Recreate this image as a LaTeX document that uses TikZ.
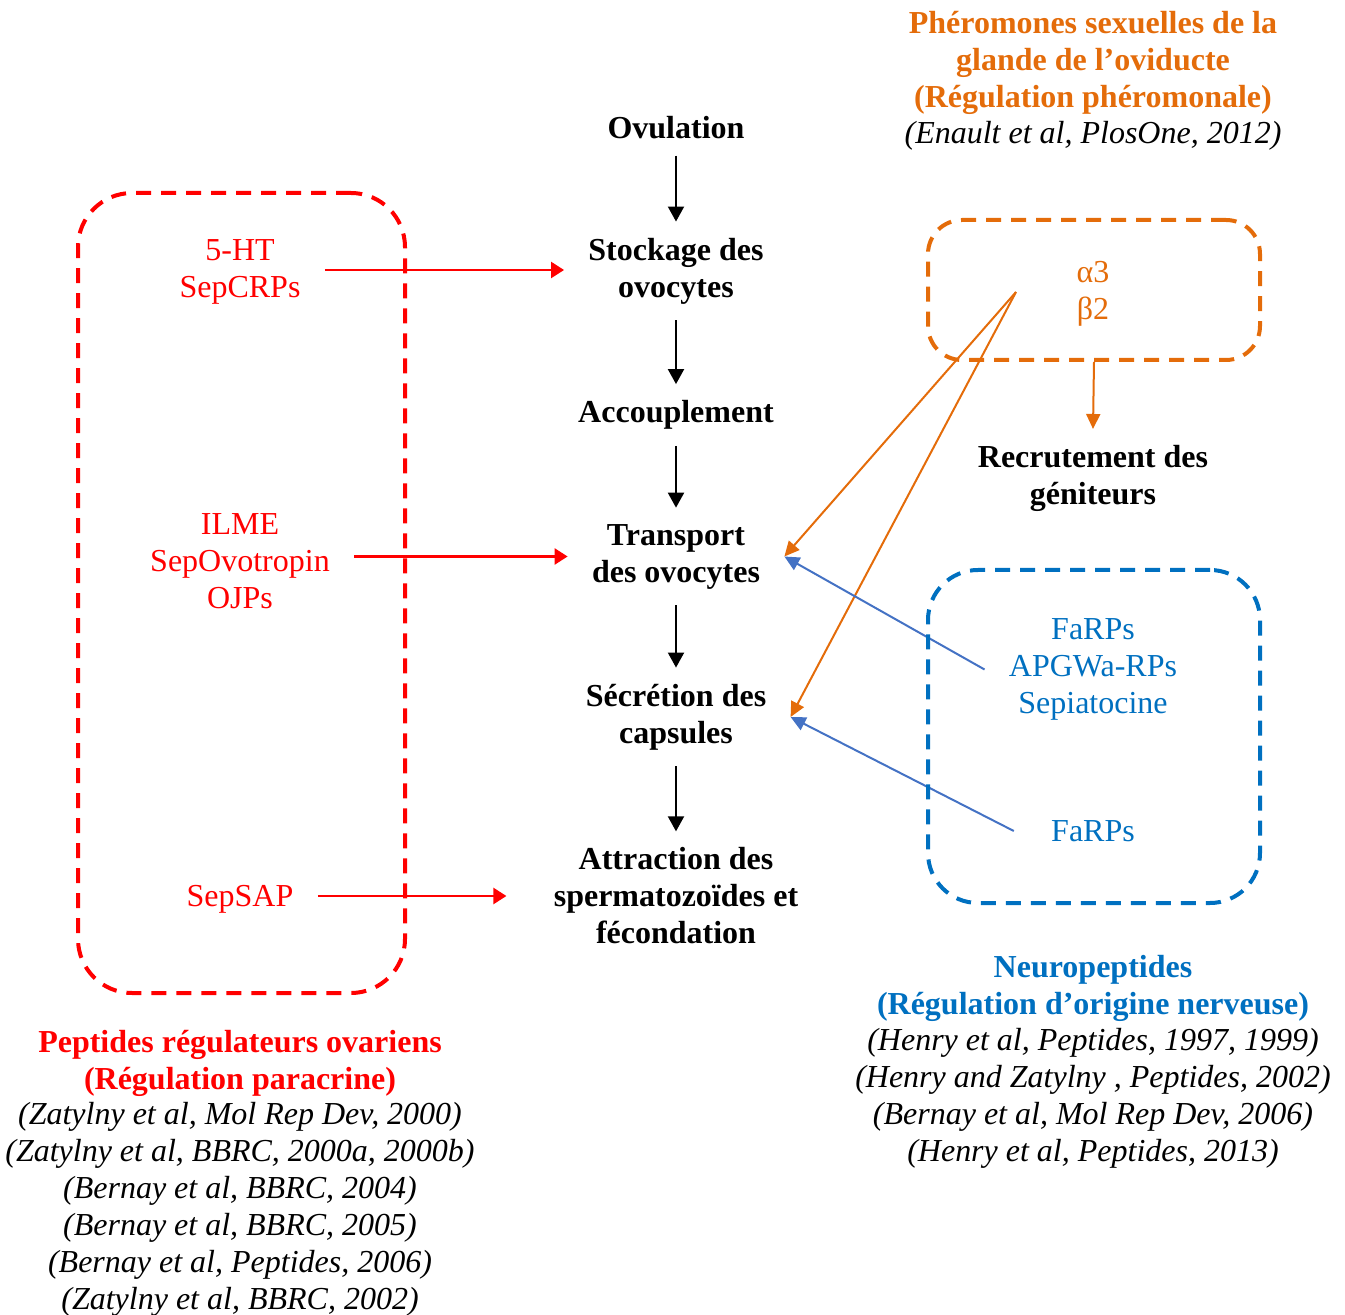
\documentclass[tikz,border=0pt]{standalone}
\usepackage{fontspec}
\setmainfont{Liberation Serif}
\usepackage{tikz}
\pgfdeclarelayer{nodelayer}
\pgfdeclarelayer{edgelayer}
\pgfsetlayers{edgelayer,nodelayer,main}
\usetikzlibrary{arrows.meta}
\definecolor{ovred}{RGB}{255,0,0}
\definecolor{phorange}{RGB}{228,108,10}
\definecolor{nrblue}{RGB}{0,112,192}
\definecolor{arrblue}{RGB}{68,114,196}
\newcommand{\figfont}{\fontsize{16}{18.5}\selectfont}
\tikzset{
	stage/.style={font=\figfont\bfseries, align=center, inner xsep=12pt, inner ysep=8pt},
	ovlab/.style={font=\figfont, text=ovred, align=center, inner xsep=12pt},
	phlab/.style={font=\figfont, text=phorange, align=center},
	nrlab/.style={font=\figfont, text=nrblue, align=center, inner xsep=12pt},
	title/.style={font=\figfont\bfseries, align=center},
	refs/.style={font=\figfont\itshape, align=center},
	dbox/.style={draw, dash pattern=on 7.5pt off 5pt, line width=2pt},
	blk/.style={-{Triangle[length=7.5pt, width=8pt]}, line width=1pt},
	redarr/.style={-{Triangle[length=6.5pt, width=8pt]}, line width=1.2pt, color=ovred},
	orarr/.style={-{Triangle[length=7.5pt, width=7pt]}, line width=1pt, color=phorange},
	bluarr/.style={-{Triangle[length=7.5pt, width=7pt]}, line width=1pt, color=arrblue},
}

\begin{document}
\begin{tikzpicture}[x=0.5pt, y=-0.5pt]
	\useasboundingbox (0, 0) rectangle (1345, 1315);
	\begin{pgfonlayer}{nodelayer}
		% dashed groups
		\node [dbox, draw=ovred, rounded corners=27pt, minimum width=163.5pt, minimum height=400pt] (ovbox) at (241.5, 593) {};
		\node [dbox, draw=phorange, rounded corners=17pt, minimum width=166pt, minimum height=70pt] (phbox) at (1094, 290) {};
		\node [dbox, draw=nrblue, rounded corners=25pt, minimum width=166pt, minimum height=166.5pt] (nrbox) at (1094, 736.5) {};
		% central chain
		\node [stage] (ovul) at (676, 128) {Ovulation};
		\node [stage] (stock) at (676, 271) {Stockage des\\ovocytes};
		\node [stage] (accoup) at (676, 415) {Accouplement};
		\node [stage] (transp) at (676, 556.5) {Transport\\des ovocytes};
		\node [stage] (secr) at (676, 717) {Sécrétion des\\capsules};
		\node [stage] (attr) at (676, 896) {Attraction des\\spermatozoïdes et\\fécondation};
		\node [stage] (recrut) at (1093, 478.5) {Recrutement des\\géniteurs};
		% ovarian peptides
		\node [ovlab] (ht) at (240, 272) {5-HT\\SepCRPs};
		\node [ovlab] (ilme) at (240, 561) {ILME\\SepOvotropin\\OJPs};
		\node [ovlab] (sap) at (240, 899.5) {SepSAP};
		% pheromones
		\node [phlab] (abeta) at (1093, 294) {α3\\β2};
		\coordinate (phx) at (1016, 292);
		% neuropeptides
		\node [nrlab] (np1) at (1093, 669.5) {FaRPs\\APGWa-RPs\\Sepiatocine};
		\node [nrlab] (np2) at (1093, 831) {FaRPs};
		% titles and references
		\node [title, text=phorange] (phtitle) at (1093, 62.5) {Phéromones sexuelles de la\\glande de l’oviducte\\(Régulation phéromonale)};
		\node [refs] (phrefs) at (1093, 135.5) {(Enault et al, PlosOne, 2012)};
		\node [title, text=nrblue] (nrtitle) at (1093, 988) {Neuropeptides\\(Régulation d’origine nerveuse)};
		\node [refs] (nrrefs) at (1093, 1098) {(Henry et al, Peptides, 1997, 1999)\\(Henry and Zatylny , Peptides, 2002)\\(Bernay et al, Mol Rep Dev, 2006)\\(Henry et al, Peptides, 2013)};
		\node [title, text=ovred] (ovtitle) at (240, 1063) {Peptides régulateurs ovariens\\(Régulation paracrine)};
		\node [refs] (ovrefs) at (240, 1209.5) {(Zatylny et al, Mol Rep Dev, 2000)\\(Zatylny et al, BBRC, 2000a, 2000b)\\(Bernay et al, BBRC, 2004)\\(Bernay et al, BBRC, 2005)\\(Bernay et al, Peptides, 2006)\\(Zatylny et al, BBRC, 2002)};
	\end{pgfonlayer}
	\begin{pgfonlayer}{edgelayer}
		\draw [blk] (ovul) to (stock);
		\draw [blk] (stock) to (accoup);
		\draw [blk] (accoup) to (transp);
		\draw [blk] (transp) to (secr);
		\draw [blk] (secr) to (attr);
		\draw [redarr] ([yshift=1pt]ht.east) to ([yshift=1pt]ht.east -| stock.west);
		\draw [redarr] (ilme.east |- transp.west) to (transp.west);
		\draw [redarr, shorten >=11.5pt] (sap.east |- attr.west) to (attr.west);
		\draw [orarr] (phbox.south) to (recrut.north);
		\draw [orarr] (phx) to (transp.east);
		\draw [orarr] (phx) to (secr.east);
		\draw [bluarr] (np1.west) to (transp.east);
		\draw [bluarr] ([xshift=-6.5pt]np2.west) to (secr.east);
	\end{pgfonlayer}
\end{tikzpicture}
\end{document}
